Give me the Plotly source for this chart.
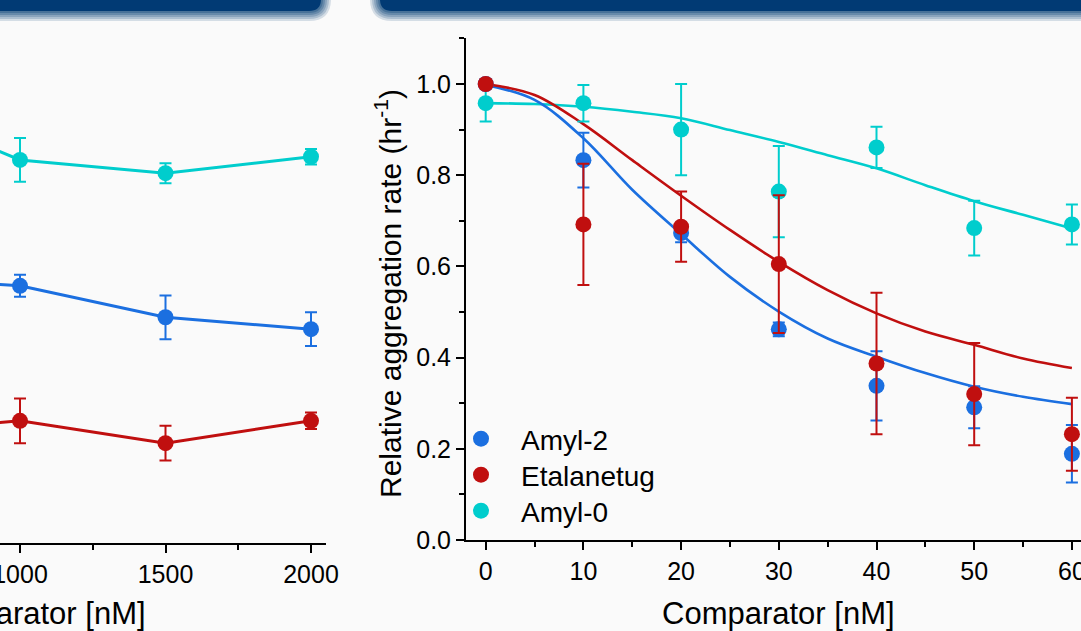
import plotly.graph_objects as go

W, H = 1081, 631

# ---------------- data ----------------
# right panel (measured points)
conc = [0, 10, 20, 30, 40, 50, 60]
amyl2 = [1.0, 0.833, 0.673, 0.462, 0.338, 0.291, 0.189]
amyl2_err = [0.01, 0.06, 0.02, 0.015, 0.076, 0.046, 0.063]
etal = [1.0, 0.692, 0.687, 0.605, 0.387, 0.320, 0.232]
etal_err = [0.0, 0.133, 0.077, 0.151, 0.155, 0.112, 0.080]
amyl0 = [0.958, 0.958, 0.900, 0.764, 0.861, 0.684, 0.692]
amyl0_err = [0.04, 0.04, 0.10, 0.10, 0.045, 0.06, 0.044]

# right panel fitted curves
fit_conc = [0, 5, 10, 15, 20, 25, 30, 35, 40, 45, 50, 55, 60]
amyl2_fit = [0.998, 0.965, 0.881, 0.768, 0.671, 0.577, 0.501, 0.442, 0.402, 0.366, 0.336, 0.314, 0.298]
etal_fit = [1.0, 0.976, 0.912, 0.833, 0.755, 0.680, 0.610, 0.548, 0.497, 0.457, 0.428, 0.398, 0.377]
amyl0_fit = [0.958, 0.956, 0.950, 0.939, 0.925, 0.899, 0.873, 0.844, 0.815, 0.778, 0.743, 0.713, 0.683]

# left panel (partly visible)
conc_left = [750, 1000, 1500, 2000]
amyl2_left = [0.575, 0.564, 0.495, 0.469]
amyl2_left_err = [0.02, 0.024, 0.048, 0.037]
etal_left = [0.255, 0.268, 0.219, 0.268]
etal_left_err = [0.03, 0.049, 0.038, 0.018]
amyl0_left = [0.906, 0.840, 0.811, 0.847]
amyl0_left_err = [0.03, 0.048, 0.022, 0.017]

BLUE = "#1b6fe0"
RED = "#c00f0f"
CYAN = "#00cdcd"
FONT = "Liberation Sans, Arial, sans-serif"

fig = go.Figure()

# ----- left panel -----
for name, y, e, c in [("Amyl-0", amyl0_left, amyl0_left_err, CYAN),
                      ("Amyl-2", amyl2_left, amyl2_left_err, BLUE),
                      ("Etalanetug", etal_left, etal_left_err, RED)]:
    fig.add_trace(go.Scatter(
        x=conc_left, y=y, mode="lines+markers", xaxis="x", yaxis="y",
        line=dict(color=c, width=3), marker=dict(color=c, size=16),
        error_y=dict(type="data", array=e, color=c, thickness=2, width=6),
        showlegend=False))

# ----- right panel: fits -----
for y, c in [(amyl0_fit, CYAN), (amyl2_fit, BLUE), (etal_fit, RED)]:
    fig.add_trace(go.Scatter(
        x=fit_conc, y=y, mode="lines", xaxis="x2", yaxis="y2",
        line=dict(color=c, width=2.6, shape="spline", smoothing=1.0), showlegend=False,
        hoverinfo="skip"))

# ----- right panel: points -----
for name, y, e, c, lg in [("Amyl-0", amyl0, amyl0_err, CYAN, "legend3"),
                          ("Amyl-2", amyl2, amyl2_err, BLUE, "legend"),
                          ("Etalanetug", etal, etal_err, RED, "legend2")]:
    fig.add_trace(go.Scatter(
        x=conc, y=y, mode="markers", xaxis="x2", yaxis="y2", name=name,
        marker=dict(color=c, size=16),
        error_y=dict(type="data", array=e, color=c, thickness=2, width=6),
        legend=lg))

def px_x(p):
    return p / W

def px_y(p):
    return 1 - p / H

axis_common = dict(
    showline=True, linewidth=2, linecolor="black", ticks="outside",
    ticklen=8, tickwidth=2, tickcolor="black", showgrid=False, zeroline=False,
    automargin=False, ticklabeloverflow="allow",
    tickfont=dict(family=FONT, size=25, color="black"),
)

# right x-axis mapping: x=0 at 485.7px, 9.77 px per unit
x2_lo = (466 - 485.7) / 9.77
x2_hi = (W - 485.7) / 9.77
# left x-axis mapping: 1000 at 20px, 0.291 px per unit
x1_lo = 1000 - 20 / 0.291
x1_hi = 1000 + (326 - 20) / 0.291

def legend_at(top_px):
    return dict(x=px_x(441), y=px_y(top_px), xanchor="left", yanchor="top",
                bgcolor="rgba(0,0,0,0)", itemwidth=70, borderwidth=0,
                font=dict(family=FONT, size=28, color="black"))

fig.update_layout(
    width=W, height=H, autosize=False,
    margin=dict(l=0, r=0, t=0, b=0, pad=0, autoexpand=False),
    paper_bgcolor="#fafafa", plot_bgcolor="#fafafa",
    font=dict(family=FONT, color="black"),
    xaxis=dict(domain=[0, px_x(326)], range=[x1_lo, x1_hi], anchor="y",
               tick0=0, dtick=500,
               minor=dict(ticks="outside", ticklen=5, tickwidth=1.5, tickcolor="black", dtick=250, tick0=0),
               **axis_common),
    yaxis=dict(domain=[px_y(543), px_y(41.4)], range=[0, 1.1], anchor="x",
               visible=False, automargin=False),
    xaxis2=dict(domain=[px_x(466), 1], range=[x2_lo, x2_hi], anchor="y2",
                tick0=0, dtick=10,
                minor=dict(ticks="outside", ticklen=5, tickwidth=1.5, tickcolor="black", dtick=5, tick0=0),
                **axis_common),
    yaxis2=dict(domain=[px_y(540), px_y(38.4)], range=[0, 1.1], anchor="x2",
                tick0=0, dtick=0.2, tickformat=".1f",
                minor=dict(ticks="outside", ticklen=5, tickwidth=1.5, tickcolor="black", dtick=0.1, tick0=0),
                **axis_common),
    legend=legend_at(414),
    legend2=legend_at(450),
    legend3=legend_at(486),
    showlegend=True,
)

# axis titles as annotations for exact placement
fig.add_annotation(text="Comparator [nM]", xref="paper", yref="paper",
                   x=px_x(778), y=px_y(613), xanchor="center", yanchor="middle",
                   showarrow=False, font=dict(family=FONT, size=31, color="black"))
fig.add_annotation(text="Comparator [nM]", xref="paper", yref="paper",
                   x=px_x(148), y=px_y(613), xanchor="right", yanchor="middle",
                   showarrow=False, font=dict(family=FONT, size=31, color="black"))
fig.add_annotation(text="Relative aggregation rate (hr<sup>-1</sup>)", xref="paper", yref="paper",
                   x=px_x(388), y=px_y(294), xanchor="center", yanchor="middle",
                   textangle=-90, showarrow=False,
                   font=dict(family=FONT, size=30, color="black"))

# header banners with soft lower edge
NAVY = "#013a74"

def left_banner(d):
    r = 12 + d
    xr, yb = 321 + d, 11 + d
    return (f"M {px_x(-20)},{px_y(-20)} L {px_x(xr)},{px_y(-20)} L {px_x(xr)},{px_y(yb - r)} "
            f"Q {px_x(xr)},{px_y(yb)} {px_x(xr - r)},{px_y(yb)} L {px_x(-20)},{px_y(yb)} Z")

def right_banner(d):
    r = 12 + d
    xl, yb = 380 - d, 11 + d
    return (f"M {px_x(W + 20)},{px_y(-20)} L {px_x(W + 20)},{px_y(yb)} L {px_x(xl + r)},{px_y(yb)} "
            f"Q {px_x(xl)},{px_y(yb)} {px_x(xl)},{px_y(yb - r)} L {px_x(xl)},{px_y(-20)} Z")

shapes = []
for d, op in [(10, 0.15), (8, 0.18), (6, 0.2), (4, 0.25), (2, 0.3), (0, 1.0)]:
    for fn in (left_banner, right_banner):
        shapes.append(dict(type="path", path=fn(d), xref="paper", yref="paper",
                           fillcolor=NAVY, opacity=op, line=dict(width=0), layer="above"))
fig.update_layout(shapes=shapes)

fig.write_html("out.html", config={"displayModeBar": False},
               post_script="document.body.style.margin='0';document.body.style.background='#fafafa';")
